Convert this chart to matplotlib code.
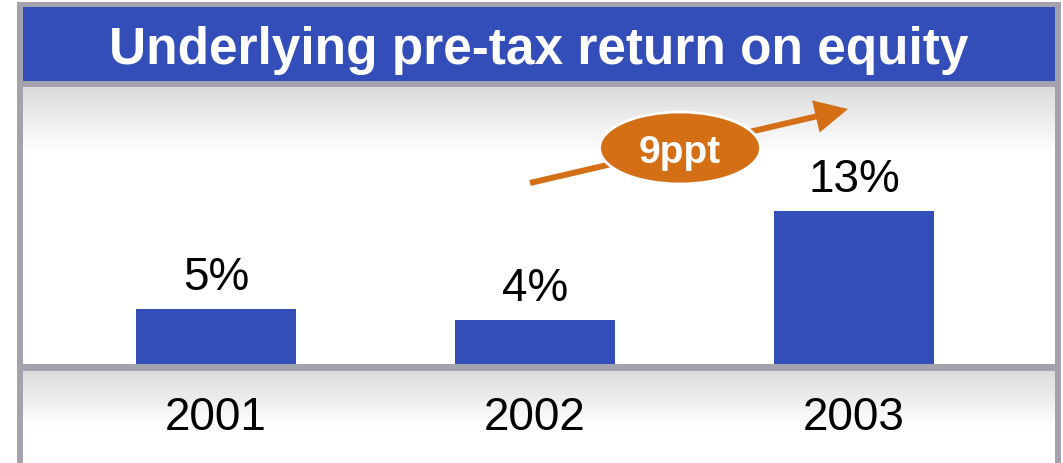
import numpy as np
import matplotlib
matplotlib.use("Agg")
import matplotlib.pyplot as plt
from matplotlib.patches import Rectangle, Ellipse, FancyArrow

# data
years = ["2001", "2002", "2003"]
roe = [5.0, 4.0, 13.9]
roe_labels = ["5%", "4%", "13%"]
change_label = "9ppt"
title = "Underlying pre-tax return on equity"

blue = "#334DB9"
grey = "#A3A3AD"
orange = "#D46F15"
font = "Liberation Sans"

W, H = 1063, 463
fig = plt.figure(figsize=(W / 100, H / 100), dpi=100)

# background layer in pixel coordinates
bg = fig.add_axes([0, 0, 1, 1])
bg.set_xlim(0, W)
bg.set_ylim(H, 0)
bg.axis("off")

bg.add_patch(Rectangle((17, 2), 1061 - 17, H - 2, color=grey, lw=0))
bg.add_patch(Rectangle((23, 7), 1055 - 23, 81 - 7, color=blue, lw=0))


def gradient(y0, y1, fade):
    n = 200
    t = np.linspace(0, 1, n)
    span = (y1 - y0)
    v = np.clip(t * span / fade, 0, 1)
    c = 0.86 + (1.0 - 0.86) * v
    img = np.dstack([c, c, c]).reshape(n, 1, 3)
    bg.imshow(img, extent=(23, 1055, y1, y0), aspect="auto",
              interpolation="bilinear", zorder=1)


gradient(87, 364, 65)
gradient(371, H, 55)
bg.set_xlim(0, W)
bg.set_ylim(H, 0)

bg.text(539, 64, title, color="white", fontsize=37, fontweight="bold",
        family=font, ha="center", va="baseline", zorder=3)

# arrow + badge
bg.add_patch(FancyArrow(530, 183, 848 - 530, 109 - 183, width=6,
                        head_width=33, head_length=33,
                        length_includes_head=True, color=orange, lw=0, zorder=4))
bg.add_patch(Ellipse((680, 148), 161, 72, facecolor=orange, edgecolor="white",
                     lw=2, zorder=5))
bg.text(680, 163, change_label, color="white", fontsize=28, fontweight="bold",
        family=font, ha="center", va="baseline", zorder=6)

# bar chart
ax = fig.add_axes([23 / W, (H - 364) / H, (1055 - 23) / W, (364 - 87) / H])
ax.patch.set_alpha(0)
x = np.arange(len(years))
ax.bar(x, roe, width=0.5, color=blue, zorder=2)
ax.set_xlim(-0.605, 2.63)
ax.set_ylim(0, (364 - 87) / 11)
for s in ax.spines.values():
    s.set_visible(False)
ax.set_xticks([])
ax.set_yticks([])

for xi, v, lab in zip(x, roe, roe_labels):
    ax.annotate(lab, (xi, v), xytext=(0, 14), textcoords="offset points",
                ha="center", va="baseline", fontsize=33, family=font)

for xi, yr in zip(x, years):
    ax.text(xi, (364 - 430) / 277, yr, transform=ax.get_xaxis_transform(),
            ha="center", va="baseline", fontsize=33, family=font)

fig.savefig("out.png", dpi=100)
